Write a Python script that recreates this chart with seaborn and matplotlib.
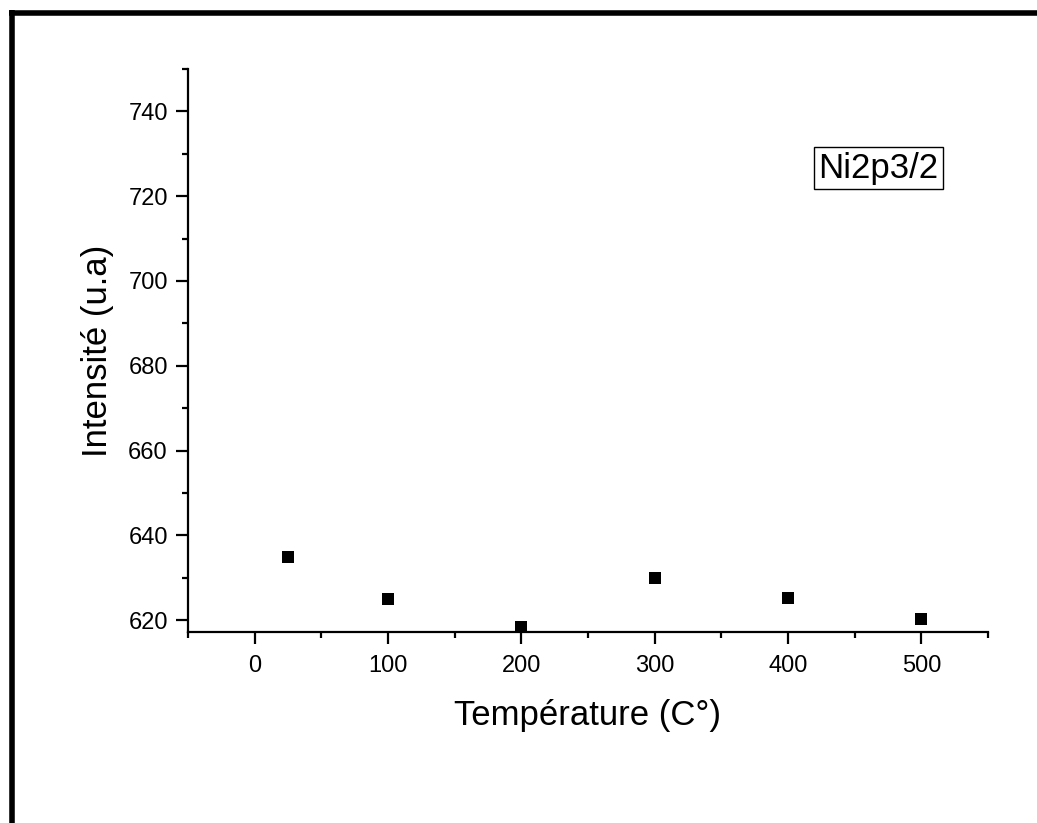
import matplotlib
matplotlib.use("Agg")
import matplotlib.pyplot as plt
from matplotlib.lines import Line2D
from matplotlib.ticker import MultipleLocator
import seaborn as sns
import pandas as pd

temperature = [25, 100, 200, 300, 400, 500]
intensity = [634.8, 625.0, 618.4, 629.9, 625.3, 620.2]
x_label = "Température (C°)"
y_label = "Intensité (u.a)"
annotation = "Ni2p3/2"

sns.set_theme(style="ticks")
plt.rcParams['font.family'] = ['Liberation Sans', 'DejaVu Sans']

df = pd.DataFrame({"T": temperature, "I": intensity})

fig = plt.figure(figsize=(10.37, 8.23), dpi=100)
ax = fig.add_axes([188/1037, 1-632/823, (988-188)/1037, (632-69)/823])

sns.scatterplot(data=df, x="T", y="I", ax=ax, marker="s", s=80,
                color="black", edgecolor="black", linewidth=0)

ax.set_xlim(-50, 550)
ax.set_ylim(617.2, 750)
ax.xaxis.set_major_locator(MultipleLocator(100))
ax.xaxis.set_minor_locator(MultipleLocator(50))
ax.yaxis.set_major_locator(MultipleLocator(20))
ax.yaxis.set_minor_locator(MultipleLocator(10))
ax.set_yticks([620, 640, 660, 680, 700, 720, 740])

for s in ["top", "right"]:
    ax.spines[s].set_visible(False)
for s in ["left", "bottom"]:
    ax.spines[s].set_linewidth(1.6)
    ax.spines[s].set_color("black")

ax.tick_params(which="major", direction="out", length=8.5, width=1.6,
               labelsize=17, pad=6, colors="black")
ax.tick_params(axis="x", which="major", pad=8)
ax.tick_params(which="minor", direction="out", length=4.5, width=1.6, colors="black")

ax.set_xlabel(x_label, fontsize=25, labelpad=16, color="black")
ax.set_ylabel(y_label, fontsize=25, labelpad=10, color="black")

ax.text(0.863, 0.824, annotation, transform=ax.transAxes, fontsize=25,
        ha="center", va="center", color="black",
        bbox=dict(boxstyle="square,pad=0.12", facecolor="white",
                  edgecolor="black", linewidth=1.0))

# figure frame (left and top edges visible)
fig.add_artist(Line2D([11.5/1037, 11.5/1037], [0, 1-10/823],
                      transform=fig.transFigure, color="black", linewidth=4, solid_capstyle="butt"))
fig.add_artist(Line2D([9/1037, 1.0], [1-12.5/823, 1-12.5/823],
                      transform=fig.transFigure, color="black", linewidth=4, solid_capstyle="butt"))

fig.savefig("out.png", dpi=100, facecolor="white")
